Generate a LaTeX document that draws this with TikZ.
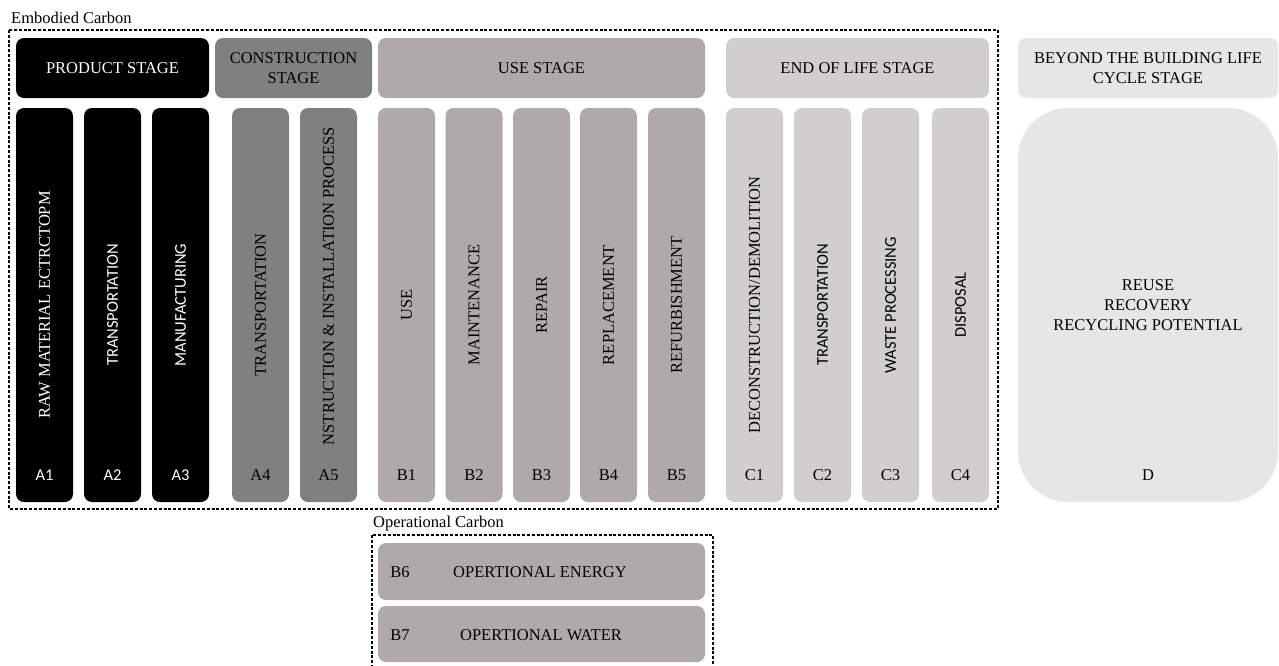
\documentclass[tikz,border=0pt]{standalone}
\usepackage{fontspec}
\setmainfont{Liberation Serif}
\newfontfamily\calibri{Carlito}

\definecolor{prodfill}{RGB}{0,0,0}
\definecolor{consfill}{RGB}{128,128,128}
\definecolor{usefill}{RGB}{174,170,169}
\definecolor{eolfill}{RGB}{208,206,206}
\definecolor{beyondfill}{RGB}{231,230,230}

\tikzset{
  stagebox/.style={rounded corners=8pt, minimum height=60pt, inner sep=0pt, align=center,
    font=\fontsize{16.5}{20}\selectfont},
  colbox/.style={rounded corners=8pt, minimum width=57pt, minimum height=394pt, inner sep=0pt},
  collabel/.style={rotate=90, inner sep=0pt, font=\fontsize{16.5}{20}\selectfont},
  codelabel/.style={inner sep=0pt, font=\fontsize{16.5}{20}\selectfont},
  groupframe/.style={dash pattern=on 3pt off 1.8pt, line width=1.3pt, black},
  grouptitle/.style={anchor=west, inner sep=0pt, font=\fontsize{16.5}{20}\selectfont},
}

\begin{document}
\begin{tikzpicture}[x=1pt, y=-1pt]
  \useasboundingbox (0,0) rectangle (1279,665);

  % embodied carbon frame
  \node[grouptitle] (embtitle) at (11,18) {Embodied Carbon};
  \draw[groupframe] (9,30) rectangle (998,509);

  % stage headers
  \node[stagebox, fill=prodfill, text=white, minimum width=193pt] (prod) at (112.5,68) {PRODUCT STAGE};
  \node[stagebox, fill=consfill, minimum width=157pt] (cons) at (293.5,68) {CONSTRUCTION\\STAGE};
  \node[stagebox, fill=usefill, minimum width=327pt] (use) at (541.5,68) {USE STAGE};
  \node[stagebox, fill=eolfill, minimum width=263pt] (eol) at (857.5,68) {END OF LIFE STAGE};
  \node[stagebox, fill=beyondfill, minimum width=260pt] (beyond) at (1148,68) {BEYOND THE BUILDING LIFE\\CYCLE STAGE};

  % module columns
  \foreach \n/\x/\ty/\c/\t/\fc/\tc/\ff in {
      a1/44.5/305/A1/{RAW MATERIAL ECTRCTOPM}/prodfill/white/\calibri,
      a2/112.5/305/A2/{\calibri TRANSPORTATION}/prodfill/white/\calibri,
      a3/180.5/305/A3/{\calibri MANUFACTURING}/prodfill/white/\calibri,
      a4/260.5/305/A4/{TRANSPORTATION}/consfill/black/\rmfamily,
      a5/328.5/286/A5/{NSTRUCTION \& INSTALLATION PROCESS}/consfill/black/\rmfamily,
      b1/406.5/305/B1/{USE}/usefill/black/\rmfamily,
      b2/474/305/B2/{MAINTENANCE}/usefill/black/\rmfamily,
      b3/541.5/305/B3/{REPAIR}/usefill/black/\rmfamily,
      b4/608.5/305/B4/{REPLACEMENT}/usefill/black/\rmfamily,
      b5/676.5/305/B5/{REFURBISHMENT}/usefill/black/\rmfamily,
      c1/754.5/305/C1/{DECONSTRUCTION/DEMOLITION}/eolfill/black/\rmfamily,
      c2/822.5/305/C2/{\calibri TRANSPORTATION}/eolfill/black/\rmfamily,
      c3/890.5/305/C3/{\calibri WASTE PROCESSING}/eolfill/black/\rmfamily,
      c4/960.5/305/C4/{\calibri DISPOSAL}/eolfill/black/\rmfamily} {
    \node[colbox, fill=\fc] (\n) at (\x,305) {};
    \node[collabel, text=\tc] (\n-text) at (\x,\ty) {\t};
    \node[codelabel, text=\tc] (\n-code) at (\x,475) {\ff\c};
  }

  % beyond the life cycle
  \node[colbox, fill=beyondfill, minimum width=260pt, rounded corners=50pt] (d) at (1148,305) {};
  \node[codelabel, align=center, font=\fontsize{16.5}{20}\selectfont] (d-text) at (d.center) {REUSE\\RECOVERY\\RECYCLING POTENTIAL};
  \node[codelabel] (d-code) at (1148,475) {D};

  % operational carbon frame (runs off the bottom edge)
  \node[grouptitle] (optitle) at (373,524) {Operational Carbon};
  \draw[groupframe] (372,668) -- (372,535) -- (713,535) -- (713,668);
  \node[stagebox, fill=usefill, minimum width=327pt, minimum height=57pt] (b6) at (541.5,571.5) {};
  \node[codelabel] (b6-code) at (400,572) {B6};
  \node[codelabel] (b6-text) at (540,572) {OPERTIONAL ENERGY};
  \node[stagebox, fill=usefill, minimum width=327pt, minimum height=56pt] (b7) at (541.5,634) {};
  \node[codelabel] (b7-code) at (400,635) {B7};
  \node[codelabel] (b7-text) at (541,635) {OPERTIONAL WATER};
\end{tikzpicture}
\end{document}
